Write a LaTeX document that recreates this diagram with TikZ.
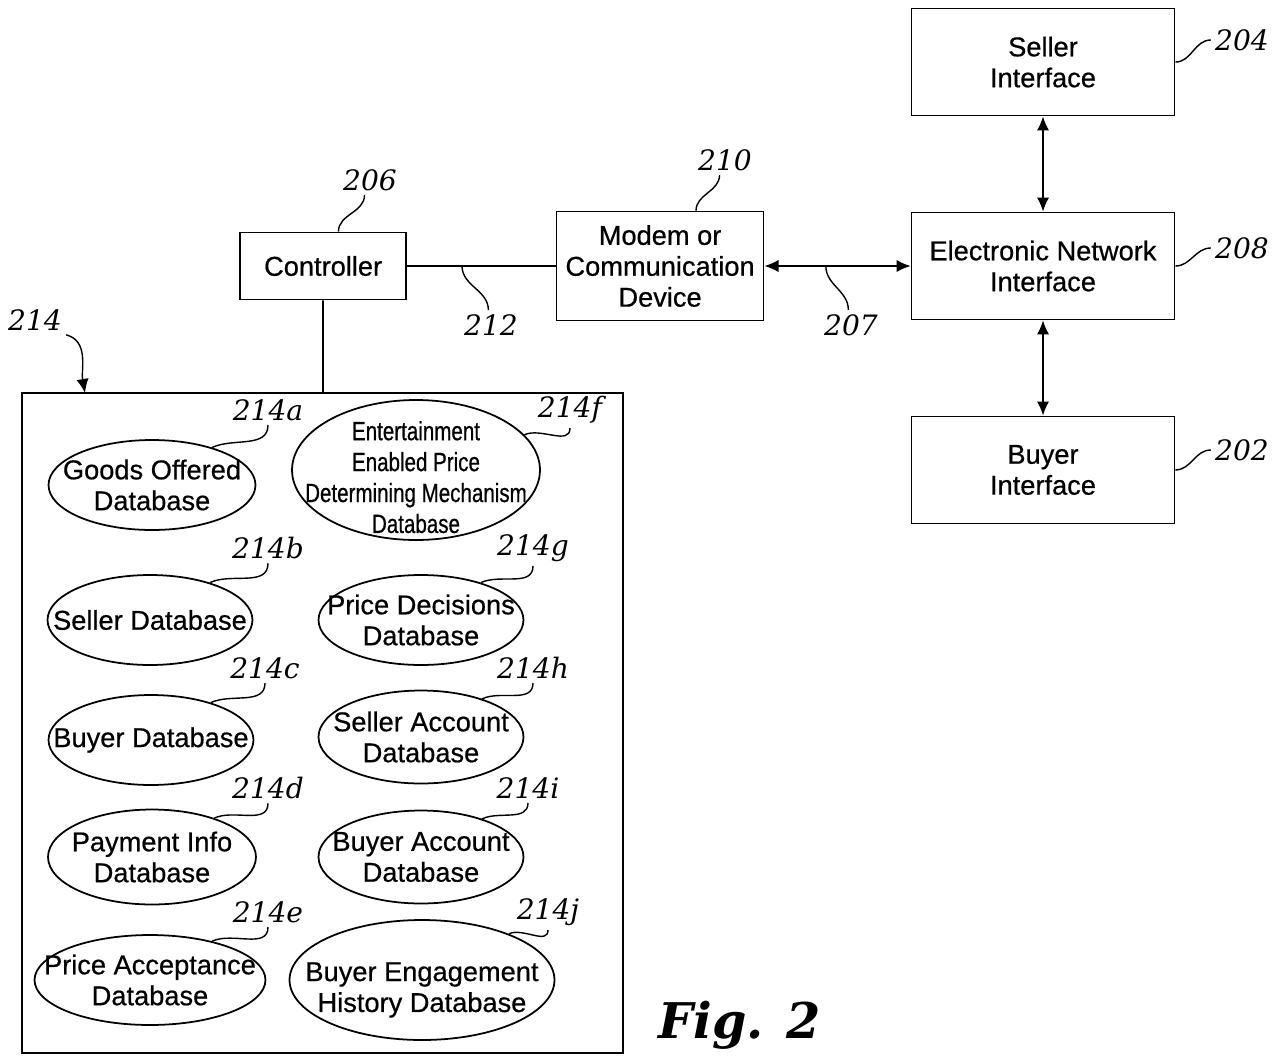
\documentclass[tikz,border=0pt]{standalone}
\usepackage{fontspec}
\setsansfont{Liberation Sans}[FakeBold=0.6]
\newfontfamily\numfont{DejaVu Serif}
\newfontfamily\narrowfont{Liberation Sans}[FakeStretch=0.78,FakeBold=0.6]
\usetikzlibrary{arrows.meta,positioning,shapes.geometric}

\tikzset{
  unit/.style={draw, rectangle, align=center, minimum width=5.26cm, minimum height=2.14cm},
  db/.style={draw, ellipse, align=center, inner sep=-20pt, minimum width=4.1cm, minimum height=1.8cm},
  num/.style={font=\numfont\itshape\fontsize{16}{18}\selectfont, inner sep=2pt},
  lead/.style={line width=0.8pt}
}

\begin{document}
\begin{tikzpicture}[x=0.02cm, y=-0.02cm, line width=1pt,
    >={Latex[length=8pt,width=7pt]},
    font=\sffamily\fontsize{15.5}{17.6}\selectfont]
  \useasboundingbox (0,0) rectangle (1274,1055);

  % interfaces and controller
  \node[unit] (net) at (1043,266) {Electronic Network\\Interface};
  \node[unit] (seller) [above of=net, node distance=4.08cm] {Seller\\Interface};
  \node[unit] (buyer)  [below of=net, node distance=4.08cm] {Buyer\\Interface};
  \node[unit, minimum width=4.14cm, minimum height=2.18cm] (modem) [left of=net, node distance=7.66cm] {Modem or\\Communication\\Device};
  \node[unit, minimum width=3.32cm, minimum height=1.34cm] (ctrl) [left of=modem, node distance=6.74cm] {Controller};

  % database store
  \node[draw, minimum width=12.02cm, minimum height=13.2cm] (store) at (322.5,723) {};
  \coordinate (tip) at (85,393);

  \node[db, minimum width=4.14cm] (goods) at (152,485) {Goods Offered\\Database};
  \node[db] (sellerdb) at (150,620) {Seller Database};
  \node[db] (buyerdb) at (151,740) {Buyer Database};
  \node[db, minimum width=4.16cm, minimum height=1.9cm] (payinfo) at (152,857) {Payment Info\\Database};
  \node[db, minimum width=4.62cm] (accept) at (150,980) {Price Acceptance\\Database};
  \node[db, minimum width=4.96cm, minimum height=2.8cm, font=\narrowfont\fontsize{15}{17.6}\selectfont] (mech) at (416,470) {\rule{0pt}{19pt}Entertainment\\Enabled Price\\Determining Mechanism\\Database};
  \node[db] (decide) at (421,620) {Price Decisions\\Database};
  \node[db, minimum height=1.86cm] (selleracc) at (421,737) {Seller Account\\Database};
  \node[db, minimum height=1.86cm] (buyeracc) at (421,857) {Buyer Account\\Database};
  \node[db, minimum width=5.3cm, minimum height=2.4cm] (engage) at (422,980) {\rule{0pt}{22pt}Buyer Engagement\\History Database};

  % reference numerals
  \node[num] (n204) at (1242,40) {204};
  \node[num] (n208) at (1242,248) {208};
  \node[num] (n202) at (1242,450) {202};
  \node[num] (n206) at (370,180) {206};
  \node[num] (n210) at (725,160) {210};
  \node[num] (n212) at (491,325) {212};
  \node[num] (n207) at (851,325) {207};
  \node[num] (n214) at (35,320) {214};
  \node[num] (n214a) at (268,410) {214a};
  \node[num] (n214b) at (268,548) {214b};
  \node[num] (n214c) at (265,668) {214c};
  \node[num] (n214d) at (268,788) {214d};
  \node[num] (n214e) at (268,912) {214e};
  \node[num] (n214f) at (570,410) {214f};
  \node[num] (n214g) at (533,548) {214g};
  \node[num] (n214h) at (533,668) {214h};
  \node[num] (n214i) at (528,788) {214i};
  \node[num] (n214j) at (548,912) {214j};

  % links
  \draw (ctrl) -- coordinate[pos=0.37] (c212) (modem);
  \draw (ctrl) -- (store);
  \draw[<->] (modem) -- coordinate[pos=0.42] (c207) (net);
  \draw[<->] (seller) -- (net);
  \draw[<->] (net) -- (buyer);

  % leaders
  \draw[lead] (seller.east) to[out=0,in=180] (n204.west);
  \draw[lead] (net.east) to[out=0,in=180] (n208.west);
  \draw[lead] (buyer.east) to[out=0,in=180] (n202.west);
  \draw[lead] (ctrl.66) to[out=90,in=-90] (n206.250);
  \draw[lead] (modem.57) to[out=90,in=-90] (n210.250);
  \draw[lead] (c212) to[out=-90,in=90] (n212.100);
  \draw[lead] (c207) to[out=-90,in=90] (n207.100);
  \draw[lead, ->] (n214.south east) to[out=-15,in=100] (tip);
  \draw[lead] (goods.32) to[out=25,in=-90] (n214a.south);
  \draw[lead] (sellerdb.32) to[out=25,in=-90] (n214b.south);
  \draw[lead] (buyerdb.32) to[out=25,in=-90] (n214c.south);
  \draw[lead] (payinfo.32) to[out=25,in=-90] (n214d.south);
  \draw[lead] (accept.32) to[out=25,in=-90] (n214e.south);
  \draw[lead] (mech.18) to[out=25,in=-90] (n214f.south);
  \draw[lead] (decide.32) to[out=25,in=-90] (n214g.south);
  \draw[lead] (selleracc.32) to[out=25,in=-90] (n214h.south);
  \draw[lead] (buyeracc.32) to[out=25,in=-90] (n214i.south);
  \draw[lead] (engage.28) to[out=25,in=-90] (n214j.south);

  \node[font=\numfont\bfseries\itshape\fontsize{28}{30}\selectfont] (fig) at (740,1025) {Fig. 2};
\end{tikzpicture}
\end{document}
